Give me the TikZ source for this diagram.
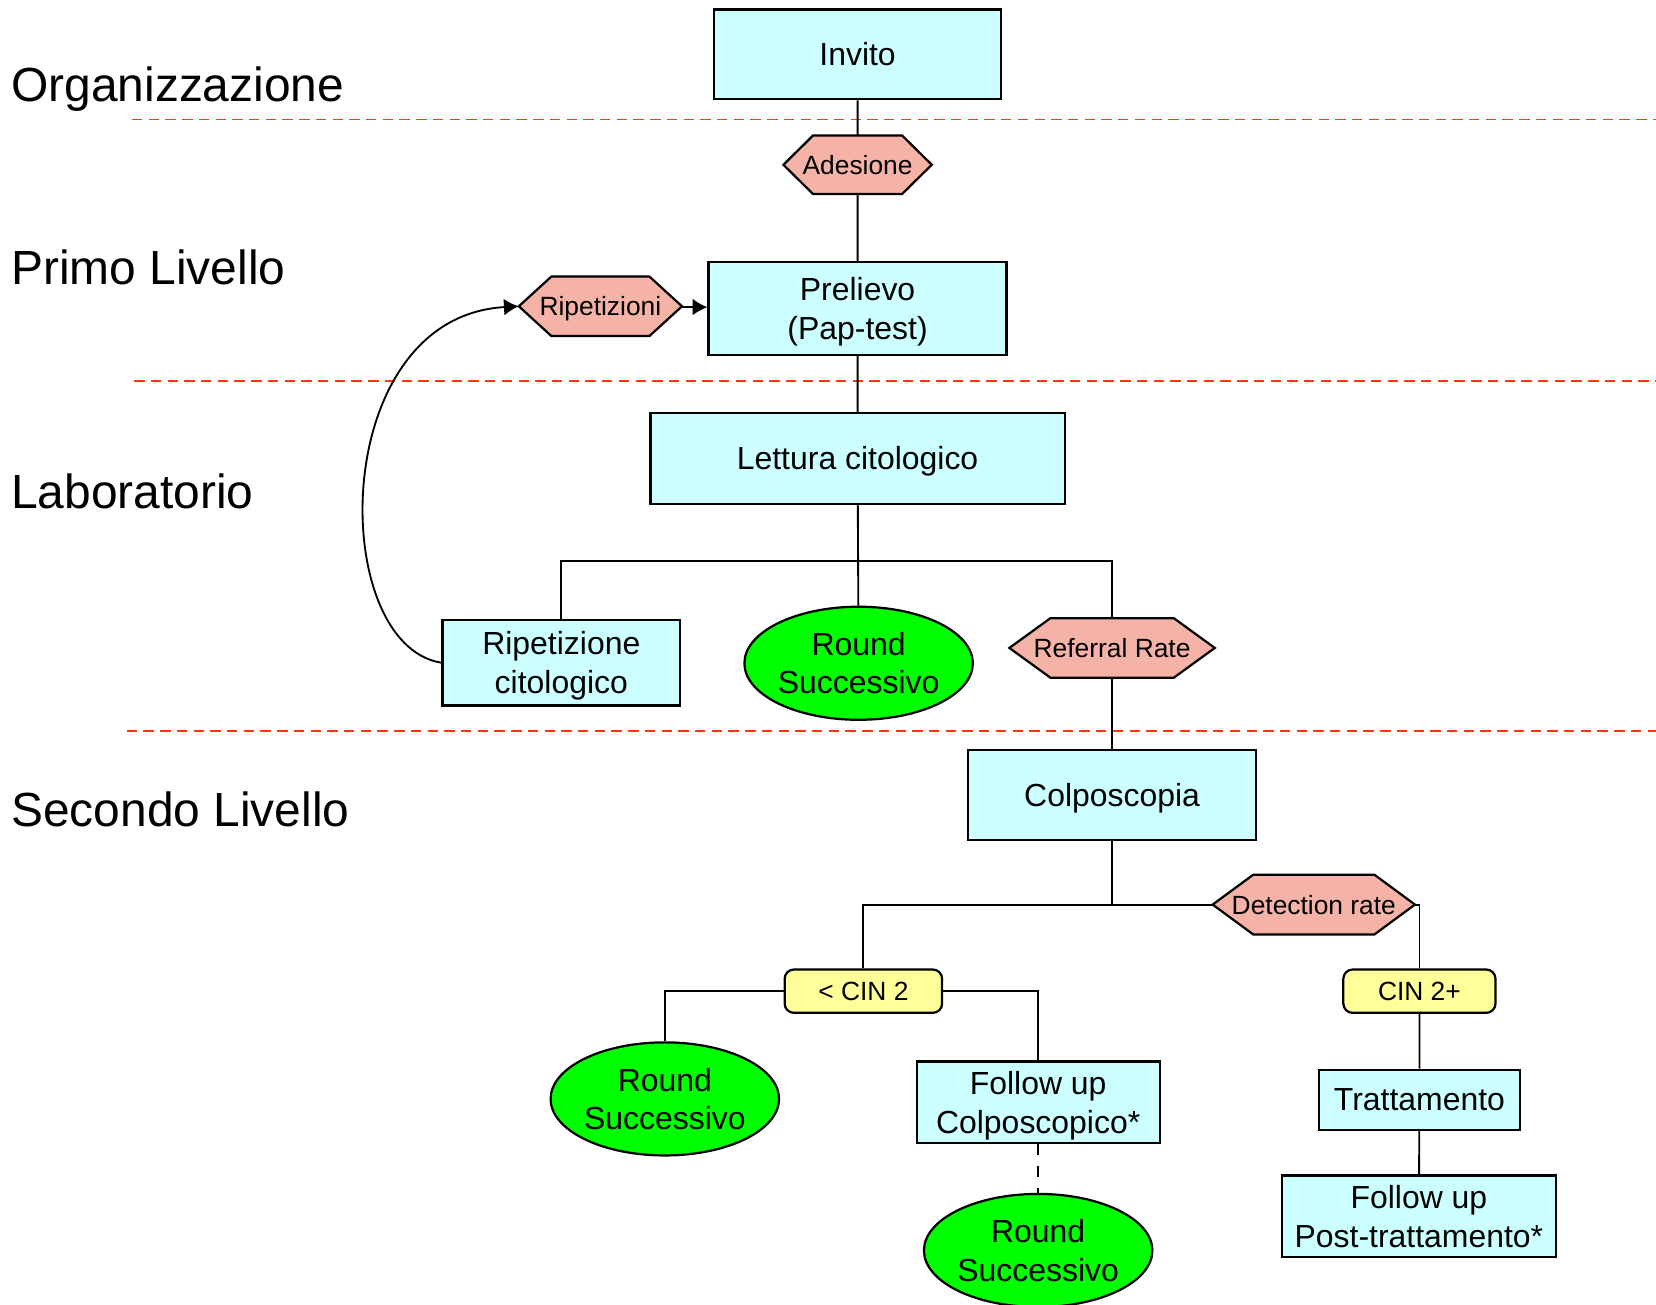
\documentclass[tikz,border=0pt]{standalone}
\usepackage{fontspec}
\setmainfont{Liberation Sans}
\usetikzlibrary{shapes.geometric,arrows.meta,calc,backgrounds}
\definecolor{boxcyan}{RGB}{204,255,255}
\definecolor{hexsalmon}{RGB}{245,178,166}
\definecolor{roundgreen}{RGB}{0,255,0}
\definecolor{cinyellow}{RGB}{255,255,153}
\definecolor{levelred}{RGB}{255,55,10}

\begin{document}
\begin{tikzpicture}[x=0.01cm, y=-0.01cm,
      every node/.style = {align=center, inner sep=0pt},
      box/.style = {shape=rectangle, draw, line width=0.6pt, fill=boxcyan,
        text depth=0pt, font=\fontsize{8.6}{10.5}\selectfont},
      hexa/.style = {shape=rectangle, text depth=0pt, font=\fontsize{7.1}{8.5}\selectfont},
      hexline/.style = {draw, line width=0.6pt, fill=hexsalmon},
      round/.style = {shape=ellipse, draw, line width=0.6pt, fill=roundgreen,
        minimum width=2.16cm, minimum height=1.07cm, font=\fontsize{8.6}{10.4}\selectfont},
      cin/.style = {shape=rectangle, rounded corners=2.5pt, draw, line width=0.6pt,
        fill=cinyellow, minimum height=0.41cm, font=\fontsize{7.1}{8.5}\selectfont},
      level/.style = {anchor=west, font=\fontsize{12.9}{15}\selectfont},
      sep/.style = {draw=levelred, dash pattern=on 2.8pt off 1.7pt, line width=0.45pt},
      link/.style = {draw, line width=0.5pt}]
  \useasboundingbox (0,0) rectangle (1568,1235);

  \node[level] (organizzazione) at (10,84) {Organizzazione};
  \node[level] (primo) at (10,253) {Primo Livello};
  \node[level] (laboratorio) at (10,465) {Laboratorio};
  \node[level] (secondo) at (10,766) {Secondo Livello};

  \draw[sep] (125,113) -- (1568,113);
  \draw[sep] (127,361) -- (1568,361);
  \draw[sep] (120,692) -- (1568,692);

  \node[box, minimum width=2.72cm, minimum height=0.85cm] (invito) at (812,51.5) {Invito};
  \node[hexa, minimum width=1.39cm, minimum height=0.54cm] (adesione) at (812,156) {Adesione};
  \node[box, minimum width=2.82cm, minimum height=0.88cm] (prelievo) at (812,292) {Prelievo\\(Pap-test)};
  \node[hexa, minimum width=1.53cm, minimum height=0.55cm] (ripetizioni) at (568.5,290) {Ripetizioni};
  \node[box, minimum width=3.92cm, minimum height=0.86cm] (lettura) at (812,434) {Lettura citologico};
  \node[box, minimum width=2.25cm, minimum height=0.81cm] (ripcito) at (531.5,627.5) {Ripetizione\\citologico};
  \node[round] (round1) at (813,628) {Round\\Successivo};
  \node[hexa, minimum width=1.93cm, minimum height=0.55cm] (referral) at (1053,613.5) {Referral Rate};
  \node[box, minimum width=2.72cm, minimum height=0.85cm] (colpo) at (1053,752.5) {Colposcopia};
  \node[hexa, minimum width=1.90cm, minimum height=0.55cm] (detection) at (1244,856.5) {Detection rate};
  \node[cin, minimum width=1.49cm] (cinlow) at (817.5,938.5) {< CIN 2};
  \node[cin, minimum width=1.44cm] (cinhigh) at (1344,938.5) {CIN 2+};
  \node[round] (round2) at (629.5,1040.5) {Round\\Successivo};
  \node[box, minimum width=2.30cm, minimum height=0.77cm] (fucolpo) at (983,1043.5) {Follow up\\Colposcopico*};
  \node[round] (round3) at (983,1184) {Round\\Successivo};
  \node[box, minimum width=1.90cm, minimum height=0.57cm] (trattamento) at (1344,1041.5) {Trattamento};
  \node[box, minimum width=2.59cm, minimum height=0.77cm] (fupost) at (1343.5,1151.5) {Follow up\\Post-trattamento*};

  \begin{pgfonlayer}{background}
    \foreach \h in {adesione,ripetizioni,referral,detection}
      \path[hexline] (\h.west) -- ($(\h.north west)!0.2!(\h.north east)$)
        -- ($(\h.north west)!0.8!(\h.north east)$) -- (\h.east)
        -- ($(\h.south west)!0.8!(\h.south east)$)
        -- ($(\h.south west)!0.2!(\h.south east)$) -- cycle;
  \end{pgfonlayer}

  \coordinate (split1) at (812,531);
  \coordinate (split2) at (1053,856.5);

  \draw[link] (invito) -- (adesione) -- (prelievo) -- (lettura) -- (round1);
  \draw[link, -{Latex[length=4pt,width=4.5pt]}] (ripetizioni) -- (prelievo);
  \draw[link, -{Latex[length=4pt,width=4.5pt]}] (ripcito.west)
    .. controls (310,610) and (310,300) .. (ripetizioni.west);
  \draw[link] (ripcito.north) |- (split1) -| (referral.north);
  \draw[link] (referral) -- (colpo) -- (split2);
  \draw[link] (cinlow.north) |- (detection.west);
  \draw[link] (detection.east) -| (cinhigh.north);
  \draw[link] (round2.north) |- (cinlow.west);
  \draw[link] (cinlow.east) -| (fucolpo.north);
  \draw[link, dashed] (fucolpo) -- (round3);
  \draw[link] (cinhigh) -- (trattamento) -- (fupost);
\end{tikzpicture}
\end{document}
